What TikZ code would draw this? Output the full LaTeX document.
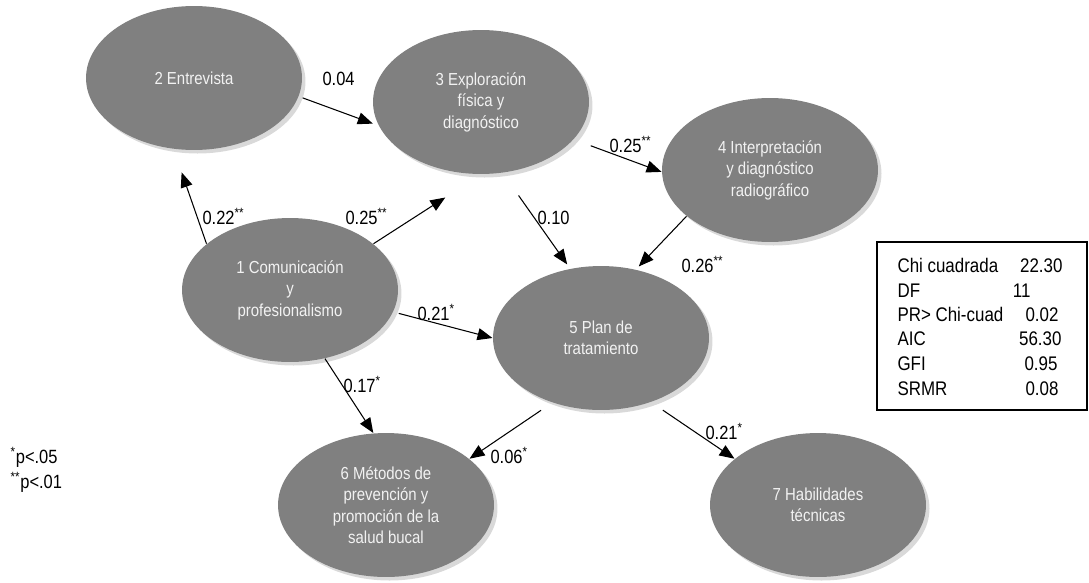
\documentclass[tikz,border=0pt]{standalone}
\usepackage{fontspec}
\setmainfont{Liberation Sans}[FakeStretch=0.86]
\usetikzlibrary{arrows.meta,shapes.geometric,shadows}

\definecolor{factorgray}{RGB}{128,128,128}
\definecolor{factortext}{RGB}{242,242,242}

\tikzstyle{factor}=[ellipse,fill=factorgray,text=factortext,minimum width=4.32cm,minimum height=2.88cm,inner sep=0pt,align=center,font=\fontsize{9.9}{12.2}\selectfont,drop shadow={shadow xshift=2pt,shadow yshift=-2pt,opacity=0.3}]
\tikzstyle{coef}=[anchor=base west,inner sep=0pt,font=\fontsize{10.9}{12}\selectfont]
\tikzstyle{fitrow}=[anchor=base west,inner sep=0pt,font=\fontsize{11.2}{12}\selectfont]
\tikzstyle{fitval}=[anchor=base east,inner sep=0pt,font=\fontsize{11.2}{12}\selectfont]

\begin{document}
\begin{tikzpicture}[x=0.02cm,y=-0.02cm,>={Triangle[length=0.3cm,width=0.24cm]},line width=0.6pt]
	\useasboundingbox (0,0) rectangle (1089,582);

	\node (F1) at (290,290) [factor] {1 Comunicación\\y\\profesionalismo};
	\node (F2) at (194,78)  [factor] {2 Entrevista};
	\node (F3) at (481,102) [factor] {3 Exploración\\física y\\diagnóstico};
	\node (F4) at (770,170) [factor] {4 Interpretación\\y diagnóstico\\radiográfico};
	\node (F5) at (601,338) [factor] {5 Plan de\\tratamiento};
	\node (F6) at (386,505) [factor] {6 Métodos de\\prevención y\\promoción de la\\salud bucal};
	\node (F7) at (818,505) [factor] {7 Habilidades\\técnicas};

	\draw [->,shorten >=0.49cm] (F1.151) to (F2.254);
	\draw [->,shorten <=0.08cm,shorten >=0.12cm] (F2.350) to (F3.193);
	\draw [->,shorten >=0.85cm] (F1.29) to (F3.270);
	\draw [->,shorten <=0.55cm,shorten >=0.1cm] (F3.287) to (F5.114);
	\draw [->,shorten <=0.36cm] (F3.338) to (F4.181);
	\draw [->,shorten >=0.08cm] (F4.209) to (F5.63);
	\draw [->,shorten <=0.11cm] (F1.348) to (F5.180);
	\draw [->] (F1.297) to (F6.100);
	\draw [->,shorten <=0.27cm] (F5.233) to (F6.29);
	\draw [->,shorten <=0.28cm] (F5.308) to (F7.151);

	\node (c12) [coef] at (202,224) {0.22\textsuperscript{**}};
	\node (c23) [coef] at (322,85)  {0.04};
	\node (c13) [coef] at (345,224) {0.25\textsuperscript{**}};
	\node (c35) [coef] at (537,224) {0.10};
	\node (c34) [coef] at (609,152) {0.25\textsuperscript{**}};
	\node (c45) [coef] at (681,272) {0.26\textsuperscript{**}};
	\node (c15) [coef] at (417,320) {0.21\textsuperscript{*}};
	\node (c16) [coef] at (343,392) {0.17\textsuperscript{*}};
	\node (c56) [coef] at (490,463) {0.06\textsuperscript{*}};
	\node (c57) [coef] at (705,439) {0.21\textsuperscript{*}};

	\node (sig1) [coef] at (10,463) {\textsuperscript{*}p<.05};
	\node (sig2) [coef] at (10,488) {\textsuperscript{**}p<.01};

	\node (fitbox) at (982,326) [draw,minimum width=4.2cm,minimum height=3.36cm,line width=0.8pt] {};
		\node (chi)   [fitrow] at (897,272)  {Chi cuadrada};
		\node (chiv)  [fitval] at (1063,272) {22.30};
		\node (df)    [fitrow] at (897,297)  {DF};
		\node (dfv)   [fitval] at (1031,297) {11};
		\node (pr)    [fitrow] at (897,321)  {PR> Chi-cuad};
		\node (prv)   [fitval] at (1059,321) {0.02};
		\node (aic)   [fitrow] at (897,345)  {AIC};
		\node (aicv)  [fitval] at (1062,345) {56.30};
		\node (gfi)   [fitrow] at (897,370)  {GFI};
		\node (gfiv)  [fitval] at (1058,370) {0.95};
		\node (srmr)  [fitrow] at (897,395)  {SRMR};
		\node (srmrv) [fitval] at (1059,395) {0.08};

\end{tikzpicture}
\end{document}
